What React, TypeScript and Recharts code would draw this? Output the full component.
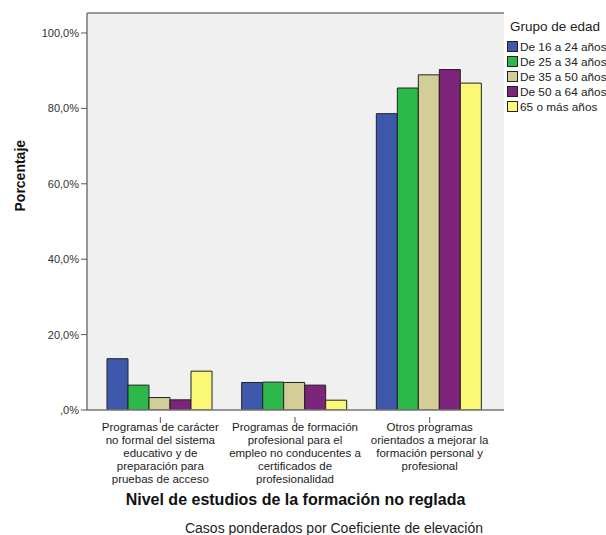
import { BarChart, Bar, XAxis, YAxis, CartesianGrid } from 'recharts';

const categories = [
  'Programas de carácter\nno formal del sistema\neducativo y de\npreparación para\npruebas de acceso',
  'Programas de formación\nprofesional para el\nempleo no conducentes a\ncertificados de\nprofesionalidad',
  'Otros programas\norientados a mejorar la\nformación personal y\nprofesional',
];

const ageGroups = ['De 16 a 24 años', 'De 25 a 34 años', 'De 35 a 50 años', 'De 50 a 64 años', '65 o más años'];
const groupColors = ['#3e58ac', '#2db84a', '#d3ce97', '#7b2479', '#fbf875'];

// porcentaje por grupo de edad, en el orden de categories
const age16to24 = [13.6, 7.3, 78.6];
const age25to34 = [6.6, 7.4, 85.4];
const age35to50 = [3.3, 7.3, 88.9];
const age50to64 = [2.7, 6.6, 90.3];
const age65plus = [10.3, 2.6, 86.7];

const yTicks = [0, 20, 40, 60, 80, 100];

const series = [age16to24, age25to34, age35to50, age50to64, age65plus];
const data = categories.map((cat, i) => {
  const row: Record<string, string | number> = { name: cat };
  ageGroups.forEach((g, j) => { row[g] = series[j][i]; });
  return row;
});

const FONT = '"Liberation Sans", Arial, sans-serif';

const fmtPct = (v: number) => {
  const s = v.toFixed(1).replace('.', ',');
  return (s.startsWith('0') ? s.slice(1) : s) + '%';
};

function CategoryTick({ x, y, payload }: any) {
  const lines = String(payload.value).split('\n');
  return (
    <g>
      <line x1={x} x2={x} y1={y - 1} y2={y + 5} stroke="#555" />
      <text x={x} y={y + 13} textAnchor="middle" fontSize={11.5} fill="#222" fontFamily={FONT}>
        {lines.map((l, i) => (
          <tspan key={i} x={x} dy={i === 0 ? 0 : 13}>{l}</tspan>
        ))}
      </text>
    </g>
  );
}

function LegendBox() {
  return (
    <div style={{ position: 'absolute', left: 507, top: 19, fontFamily: FONT, color: '#222', whiteSpace: 'nowrap' }}>
      <div style={{ fontSize: 13.5, marginBottom: 5, marginLeft: 3 }}>Grupo de edad</div>
      {ageGroups.map((g, i) => (
        <div key={g} style={{ display: 'flex', alignItems: 'center', height: 15, fontSize: 11.8 }}>
          <span style={{ flex: 'none', width: 9, height: 9, background: groupColors[i], border: '1px solid #222', marginRight: 2 }} />
          {g}
        </div>
      ))}
    </div>
  );
}

export default function App() {
  return (
    <div style={{ position: 'absolute', left: 0, top: 0, width: 606, height: 535, background: '#fff', overflow: 'hidden' }}>
      <BarChart
        width={606}
        height={535}
        data={data}
        margin={{ top: 12, right: 102, bottom: 30, left: 8 }}
        barCategoryGap={14}
        barGap={0}
      >
        <CartesianGrid horizontal={false} vertical={false} fill="#f0f0f0" />
        <XAxis
          dataKey="name"
          interval={0}
          height={95}
          padding={{ left: 6, right: 7 }}
          axisLine={{ stroke: '#777', strokeWidth: 1.5 }}
          tickLine={false}
          tick={<CategoryTick />}
          label={{ value: 'Nivel de estudios de la formación no reglada', position: 'insideBottom', offset: 0, fontSize: 16, fontWeight: 'bold', fill: '#111', fontFamily: FONT }}
        />
        <XAxis xAxisId="top" orientation="top" dataKey="name" height={1} tick={false} tickLine={false} axisLine={{ stroke: '#777', strokeWidth: 1.5 }} />
        <YAxis
          width={79}
          domain={[0, 105.3]}
          ticks={yTicks}
          tickFormatter={fmtPct}
          allowDataOverflow
          axisLine={{ stroke: '#777', strokeWidth: 1.5 }}
          tickLine={{ stroke: '#555' }}
          tickSize={6}
          tick={{ fontSize: 11, fill: '#333', fontFamily: FONT }}
          label={{ value: 'Porcentaje', angle: -90, position: 'insideLeft', offset: 12, fontSize: 14, fontWeight: 'bold', fill: '#111', fontFamily: FONT }}
        />
        <YAxis yAxisId="right" orientation="right" width={0} tick={false} tickLine={false} axisLine={{ stroke: '#777', strokeWidth: 1.5 }} />
        {ageGroups.map((g, i) => (
          <Bar key={g} dataKey={g} fill={groupColors[i]} stroke="#222" strokeWidth={1} isAnimationActive={false} />
        ))}
      </BarChart>
      <LegendBox />
      <div style={{ position: 'absolute', top: 520, left: 0, width: 668, textAlign: 'center', fontSize: 14, color: '#222', fontFamily: FONT }}>
        Casos ponderados por Coeficiente de elevación
      </div>
    </div>
  );
}
